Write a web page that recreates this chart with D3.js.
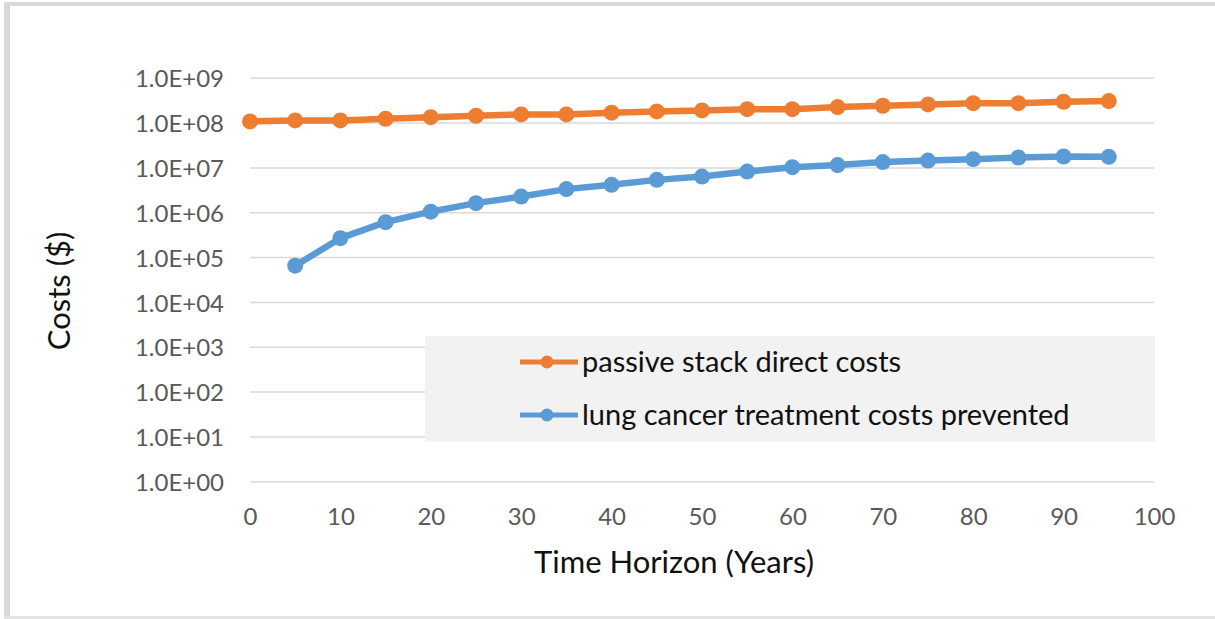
<!DOCTYPE html>
<html>
<head>
<meta charset="utf-8">
<script src="https://cdn.jsdelivr.net/npm/d3@7"></script>
<style>
  html, body { margin: 0; padding: 0; background: #fff; }
  svg { display: block; font-family: Lato, "Open Sans", sans-serif; }
</style>
</head>
<body>
<svg id="chart" width="1215" height="619"></svg>
<script>
// Time horizon in years (x positions of the points)
const years = [0, 5, 10, 15, 20, 25, 30, 35, 40, 45, 50, 55, 60, 65, 70, 75, 80, 85, 90, 95];

// Cumulative direct costs of the passive stack ($)
const passiveStackCosts = [
  1.09e8, 1.15e8, 1.15e8, 1.25e8, 1.36e8, 1.46e8, 1.56e8, 1.56e8, 1.71e8, 1.82e8,
  1.92e8, 2.05e8, 2.05e8, 2.28e8, 2.44e8, 2.61e8, 2.79e8, 2.79e8, 3.0e8, 3.1e8
];

// Lung cancer treatment costs prevented ($); no value at year 0
const treatmentCostsPrevented = [
  null, 6.6e4, 2.71e5, 6.17e5, 1.06e6, 1.64e6, 2.3e6, 3.37e6, 4.2e6, 5.42e6,
  6.43e6, 8.3e6, 1.04e7, 1.16e7, 1.35e7, 1.46e7, 1.57e7, 1.71e7, 1.8e7, 1.77e7
];

const seriesNames = ["passive stack direct costs", "lung cancer treatment costs prevented"];
const seriesColors = ["#ED7D31", "#5B9BD5"];

const xTicks = [0, 10, 20, 30, 40, 50, 60, 70, 80, 90, 100];
const yTicks = [1e0, 1e1, 1e2, 1e3, 1e4, 1e5, 1e6, 1e7, 1e8, 1e9];

const svg = d3.select("#chart");

// Outer frame strips
svg.append("rect").attr("x", 4).attr("y", 2).attr("width", 1211).attr("height", 4).attr("fill", "#d9d9d9");
svg.append("rect").attr("x", 4).attr("y", 2).attr("width", 6).attr("height", 615).attr("fill", "#d9d9d9");
svg.append("rect").attr("x", 4).attr("y", 616).attr("width", 1211).attr("height", 3).attr("fill", "#e3e3e3");

const x = d3.scaleLinear().domain([0, 100]).range([250, 1154]);
const y = d3.scaleLog().domain([1, 1e9]).range([481.7, 78.3]);

// Horizontal gridlines at each decade
svg.append("g").selectAll("line").data(yTicks).join("line")
  .attr("x1", x(0)).attr("x2", x(100))
  .attr("y1", d => y(d)).attr("y2", d => y(d))
  .attr("stroke", "#d9d9d9").attr("stroke-width", 1.5);

// Y axis labels in exponent notation
const fmtExp = d => {
  const e = Math.round(Math.log10(d));
  return "1.0E+" + String(e).padStart(2, "0");
};
const yAxis = d3.axisLeft(y).tickValues(yTicks).tickFormat(fmtExp).tickSize(0).tickPadding(0);
const gy = svg.append("g").attr("transform", "translate(224,0)").call(yAxis);
gy.select(".domain").remove();
gy.selectAll("text").attr("fill", "#595959").attr("font-size", 24)
  .attr("font-family", "Lato, sans-serif").attr("dy", "0.36em");

// X axis labels
const xAxis = d3.axisBottom(x).tickValues(xTicks).tickFormat(d3.format("d")).tickSize(0).tickPadding(0);
const gx = svg.append("g").attr("transform", "translate(0,508)").call(xAxis);
gx.select(".domain").remove();
gx.selectAll("text").attr("fill", "#595959").attr("font-size", 24)
  .attr("font-family", "Lato, sans-serif").attr("dy", "0.72em");

// Axis titles
svg.append("text").attr("x", 674).attr("y", 573).attr("text-anchor", "middle")
  .attr("font-size", 31).attr("fill", "#111").text("Time Horizon (Years)");
svg.append("text").attr("transform", "translate(70,291) rotate(-90)").attr("text-anchor", "middle")
  .attr("font-size", 31).attr("fill", "#111").text("Costs ($)");

// Legend background
svg.append("rect").attr("x", 425).attr("y", 336).attr("width", 730).attr("height", 106).attr("fill", "#f2f2f2");

// Series lines and markers
const allSeries = [passiveStackCosts, treatmentCostsPrevented];
const line = d3.line()
  .defined(d => d[1] != null)
  .x(d => x(d[0])).y(d => y(d[1]));

allSeries.forEach((vals, i) => {
  const pts = years.map((yr, j) => [yr, vals[j]]);
  const g = svg.append("g");
  g.append("path").datum(pts).attr("d", line)
    .attr("fill", "none").attr("stroke", seriesColors[i]).attr("stroke-width", 6.5)
    .attr("stroke-linejoin", "round");
  g.selectAll("circle").data(pts.filter(d => d[1] != null)).join("circle")
    .attr("cx", d => x(d[0])).attr("cy", d => y(d[1])).attr("r", 8)
    .attr("fill", seriesColors[i]);
});

// Legend entries
const legendY = [362, 415];
seriesNames.forEach((name, i) => {
  const g = svg.append("g");
  g.append("line").attr("x1", 520).attr("x2", 578).attr("y1", legendY[i]).attr("y2", legendY[i])
    .attr("stroke", seriesColors[i]).attr("stroke-width", 5);
  g.append("circle").attr("cx", 547).attr("cy", legendY[i]).attr("r", 6.5).attr("fill", seriesColors[i]);
  g.append("text").attr("x", 582).attr("y", legendY[i] + 10)
    .attr("font-size", 29).attr("fill", "#111").text(name);
});
</script>
</body>
</html>
